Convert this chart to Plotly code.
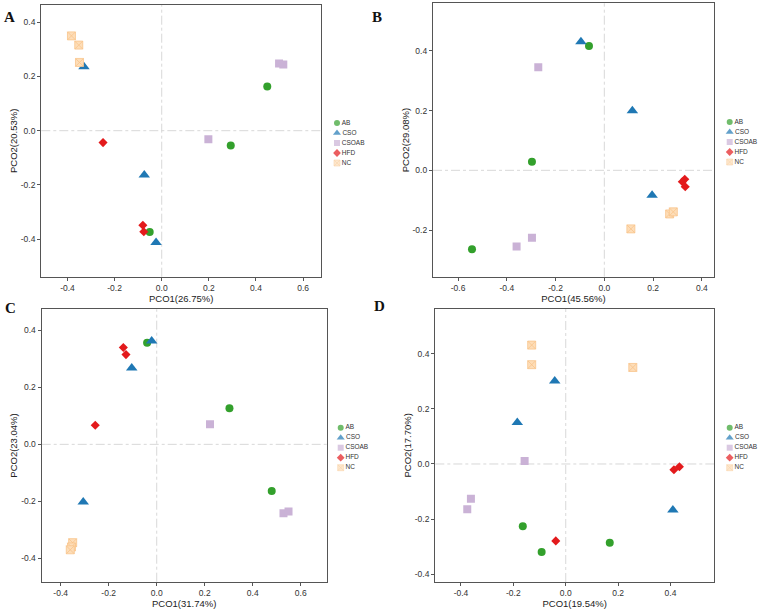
import plotly.graph_objects as go

W, H = 767, 613

groups = ["AB", "CSO", "CSOAB", "HFD", "NC"]
group_colors = {"AB": "#33A02C", "CSO": "#1F78B4", "CSOAB": "#CAB2D6", "HFD": "#E31A1C", "NC": "#FDDDB8"}
group_line = {"AB": "#33A02C", "CSO": "#1F78B4", "CSOAB": "#CAB2D6", "HFD": "#E31A1C", "NC": "#F9C48A"}
group_symbols = {"AB": "circle", "CSO": "triangle-up", "CSOAB": "square", "HFD": "diamond", "NC": "square-x"}
group_sizes = {"AB": 8, "CSO": 10, "CSOAB": 8, "HFD": 7, "NC": 8}

# Panel A
A_x = {"AB": [0.448, 0.293, -0.051], "CSO": [-0.330, -0.074, -0.024], "CSOAB": [0.198, 0.498, 0.516],
       "HFD": [-0.249, -0.080, -0.076], "NC": [-0.383, -0.352, -0.349]}
A_y = {"AB": [0.163, -0.055, -0.374], "CSO": [0.236, -0.164, -0.413], "CSOAB": [-0.032, 0.248, 0.244],
       "HFD": [-0.044, -0.349, -0.373], "NC": [0.350, 0.316, 0.252]}
# Panel B
B_x = {"AB": [-0.063, -0.297, -0.543], "CSO": [-0.096, 0.115, 0.196], "CSOAB": [-0.271, -0.297, -0.360],
       "HFD": [0.330, 0.320, 0.332], "NC": [0.109, 0.268, 0.283]}
B_y = {"AB": [0.416, 0.029, -0.264], "CSO": [0.430, 0.199, -0.083], "CSOAB": [0.345, -0.226, -0.255],
       "HFD": [-0.030, -0.038, -0.055], "NC": [-0.196, -0.146, -0.139]}
# Panel C
C_x = {"AB": [-0.040, 0.303, 0.479], "CSO": [-0.021, -0.104, -0.306], "CSOAB": [0.222, 0.528, 0.549],
       "HFD": [-0.139, -0.128, -0.256], "NC": [-0.350, -0.355, -0.360]}
C_y = {"AB": [0.357, 0.127, -0.164], "CSO": [0.363, 0.268, -0.202], "CSOAB": [0.071, -0.242, -0.236],
       "HFD": [0.340, 0.315, 0.067], "NC": [-0.345, -0.360, -0.370]}
# Panel D
D_x = {"AB": [-0.164, -0.092, 0.168], "CSO": [-0.042, -0.185, 0.409], "CSOAB": [-0.157, -0.362, -0.376],
       "HFD": [-0.038, 0.413, 0.434], "NC": [-0.130, -0.130, 0.256]}
D_y = {"AB": [-0.226, -0.319, -0.286], "CSO": [0.301, 0.150, -0.167], "CSOAB": [0.011, -0.126, -0.164],
       "HFD": [-0.279, -0.021, -0.010], "NC": [0.431, 0.360, 0.350]}

x_titles = ["PCO1(26.75%)", "PCO1(45.56%)", "PCO1(31.74%)", "PCO1(19.54%)"]
y_titles = ["PCO2(20.53%)", "PCO2(29.08%)", "PCO2(23.04%)", "PCO2(17.70%)"]
panel_letters = ["A", "B", "C", "D"]
x_ranges = [[-0.511, 0.676], [-0.703, 0.450], [-0.479, 0.708], [-0.498, 0.566]]
y_ranges = [[-0.539, 0.464], [-0.356, 0.559], [-0.482, 0.474], [-0.428, 0.563]]
x_ticks = [[-0.4, -0.2, 0.0, 0.2, 0.4, 0.6], [-0.6, -0.4, -0.2, 0.0, 0.2, 0.4],
           [-0.4, -0.2, 0.0, 0.2, 0.4, 0.6], [-0.4, -0.2, 0.0, 0.2, 0.4]]
y_ticks = [[-0.4, -0.2, 0.0, 0.2, 0.4], [-0.2, 0.0, 0.2, 0.4],
           [-0.4, -0.2, 0.0, 0.2, 0.4], [-0.4, -0.2, 0.0, 0.2, 0.4]]

panels_x = [A_x, B_x, C_x, D_x]
panels_y = [A_y, B_y, C_y, D_y]

# pixel boxes: left, right, top, bottom
boxes = [(41.3, 321, 5, 276.7), (433, 714, 3.3, 276.7), (41.7, 326.7, 309.3, 581.7), (435.3, 714, 308.7, 582)]
legend_pos = [(337, 123), (729.7, 122), (340.7, 427.7), (729.7, 427.7)]
letter_pos = [(9, 17), (377, 17), (10, 308), (379, 306)]

SANS = "Arial, 'Liberation Sans', Helvetica, sans-serif"


def px2fx(p):
    return min(1.0, max(0.0, p / W))


def py2fy(p):
    return min(1.0, max(0.0, 1 - p / H))


fig = go.Figure()
layout = dict(width=W, height=H, margin=dict(l=0, r=0, t=0, b=0), paper_bgcolor="white",
              plot_bgcolor="white", showlegend=False, font=dict(family=SANS, color="#333"))
shapes = []
annotations = []

tickfont = dict(family=SANS, size=8.5, color="#333")
titlefont = dict(family=SANS, size=9.5, color="#222")

for i in range(4):
    n = i + 1
    xa = "x" if n == 1 else f"x{n}"
    ya = "y" if n == 1 else f"y{n}"
    xkey = "xaxis" if n == 1 else f"xaxis{n}"
    ykey = "yaxis" if n == 1 else f"yaxis{n}"
    l, r, t, b = boxes[i]
    layout[xkey] = dict(domain=[px2fx(l), px2fx(r)], range=x_ranges[i], anchor=ya, tickvals=x_ticks[i],
                        ticktext=[f"{v:.1f}" for v in x_ticks[i]], showgrid=False, zeroline=False,
                        showline=True, mirror=True, linecolor="#555", linewidth=1.3, ticks="outside",
                        ticklen=3, tickcolor="#555", tickfont=tickfont,
                        title=dict(text=x_titles[i], font=titlefont, standoff=2))
    layout[ykey] = dict(domain=[py2fy(b), py2fy(t)], range=y_ranges[i], anchor=xa, tickvals=y_ticks[i],
                        ticktext=[f"{v:.1f}" for v in y_ticks[i]], showgrid=False, zeroline=False,
                        showline=True, mirror=True, linecolor="#555", linewidth=1.3, ticks="outside",
                        ticklen=3, tickcolor="#555", tickfont=tickfont,
                        title=dict(text=y_titles[i], font=titlefont, standoff=1))
    for g in groups:
        fig.add_trace(go.Scatter(
            x=panels_x[i][g], y=panels_y[i][g], mode="markers", xaxis=xa, yaxis=ya, name=g,
            marker=dict(symbol=group_symbols[g], size=group_sizes[g], color=group_colors[g],
                        line=dict(color=group_line[g], width=0.8 if g == "NC" else 0)),
            hoverinfo="skip"))
    shapes.append(dict(type="line", xref=xa, yref=f"{ya} domain", x0=0, x1=0, y0=0, y1=1,
                       line=dict(color="#d4d4d4", width=0.9, dash="dashdot"), layer="below"))
    shapes.append(dict(type="line", xref=f"{xa} domain", yref=ya, x0=0, x1=1, y0=0, y1=0,
                       line=dict(color="#d4d4d4", width=0.9, dash="dashdot"), layer="below"))

    # legend built on a hidden axis (10 px per unit)
    m = n + 4
    lxa, lya = f"x{m}", f"y{m}"
    lx, ly = legend_pos[i]
    left_px, right_px = lx - 5, min(W, lx + 36)
    top_px, bot_px = ly - 5, ly + 45
    layout[f"xaxis{m}"] = dict(domain=[px2fx(left_px), px2fx(right_px)],
                               range=[(left_px - lx) / 10, (right_px - lx) / 10], visible=False,
                               anchor=lya, fixedrange=True)
    layout[f"yaxis{m}"] = dict(domain=[py2fy(bot_px), py2fy(top_px)],
                               range=[(bot_px - ly) / 10, (top_px - ly) / 10], visible=False,
                               anchor=lxa, fixedrange=True)
    fig.add_trace(go.Scatter(
        x=[0] * len(groups), y=list(range(len(groups))), mode="markers+text", xaxis=lxa, yaxis=lya,
        text=groups, textposition="middle right", cliponaxis=False,
        textfont=dict(family=SANS, size=6.5, color="#333"),
        marker=dict(symbol=[group_symbols[g] for g in groups],
                    size=[6, 7, 6, 6, 6], color=[group_colors[g] for g in groups],
                    line=dict(color=[group_line[g] for g in groups], width=[0, 0, 0, 0, 0.6])),
        hoverinfo="skip"))

    annotations.append(dict(text=f"<b>{panel_letters[i]}</b>", x=px2fx(letter_pos[i][0]),
                            y=py2fy(letter_pos[i][1]), xref="paper", yref="paper", showarrow=False,
                            xanchor="center", yanchor="middle",
                            font=dict(family="'Times New Roman', 'Liberation Serif', serif", size=15,
                                      color="#111")))

layout["shapes"] = shapes
layout["annotations"] = annotations
fig.update_layout(**layout)
fig.write_html("out.html")
